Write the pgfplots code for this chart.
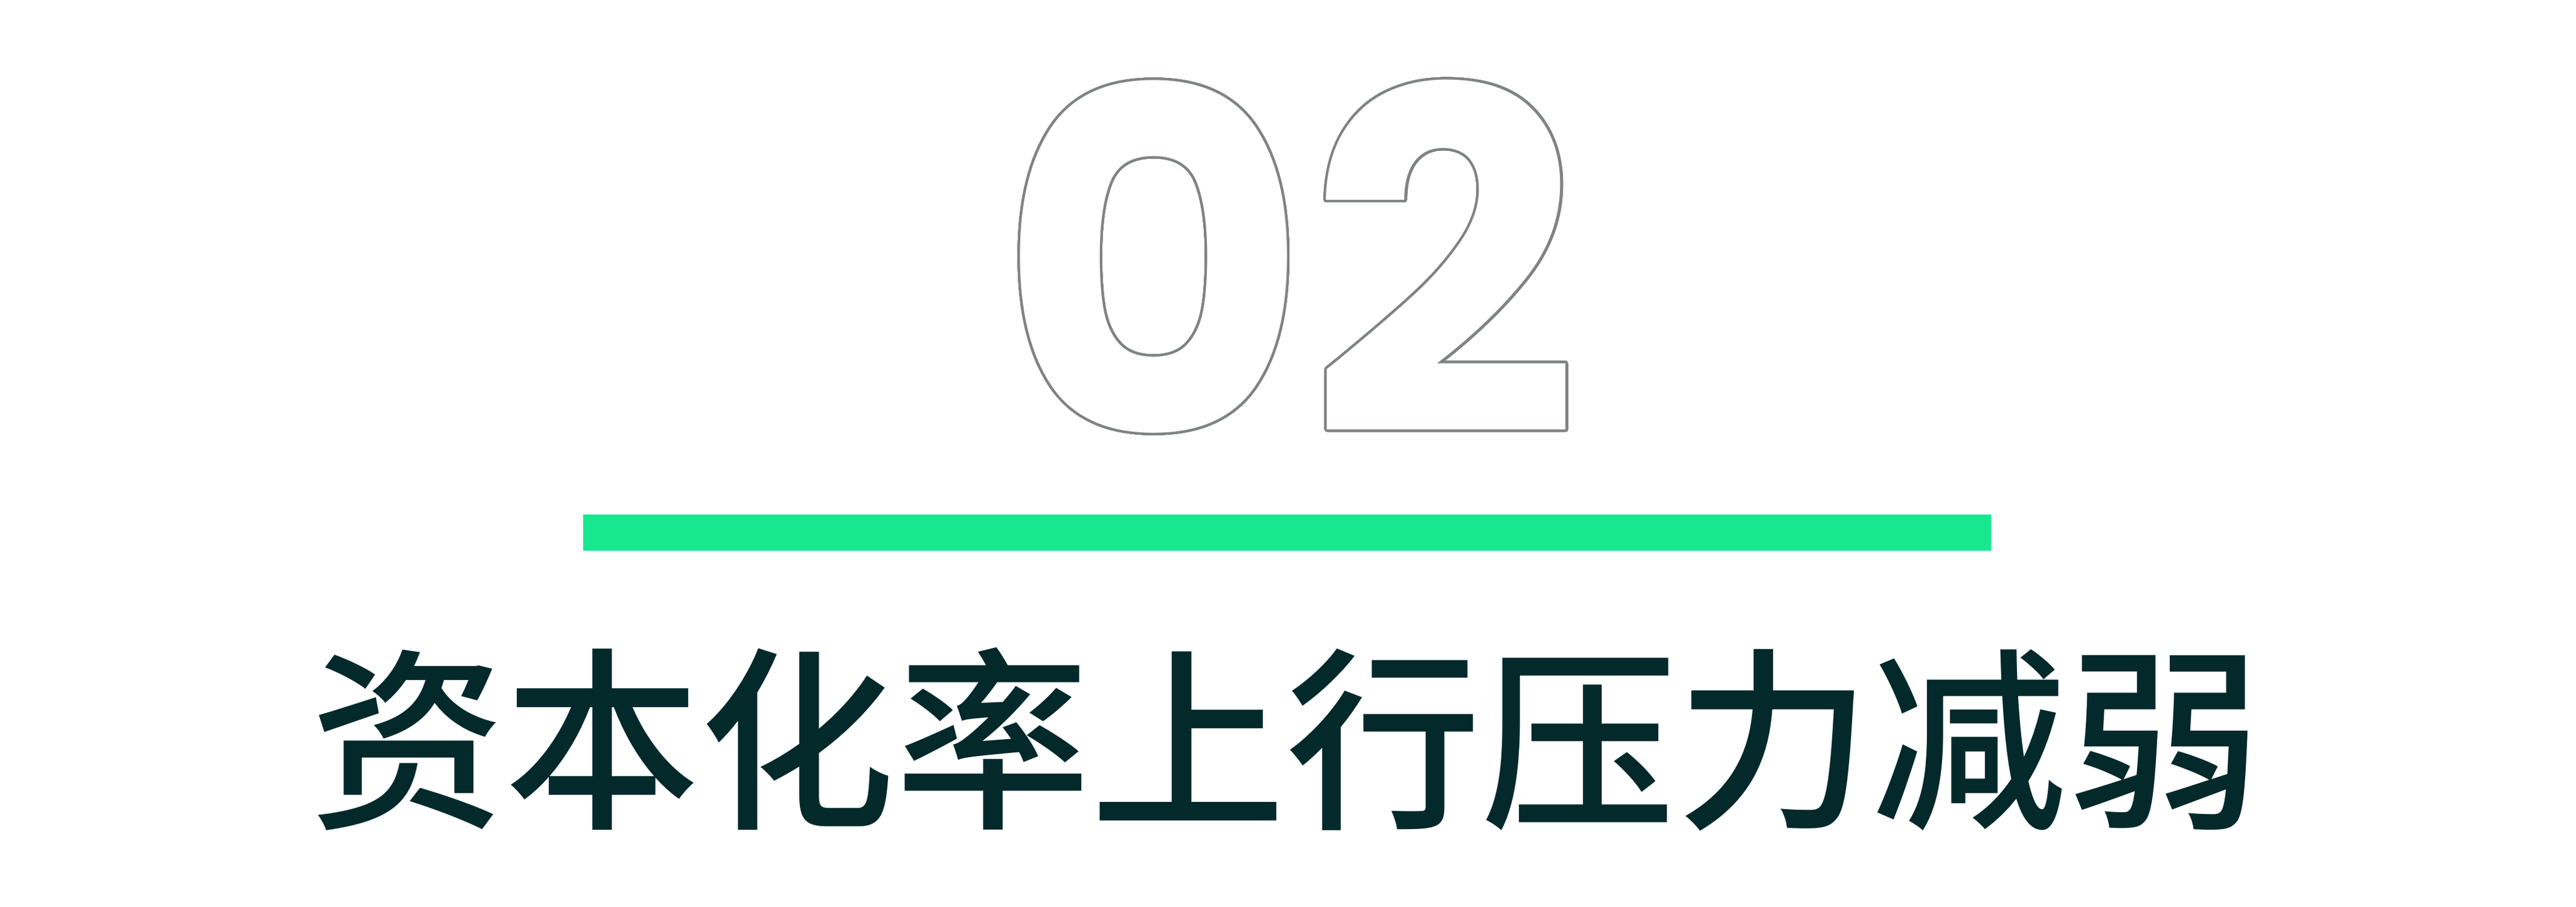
\documentclass[border=0pt]{standalone}
\usepackage{fontspec}
\usepackage{pgfplots}
\pgfplotsset{compat=1.18}
\usepackage{contour}
\newfontfamily\numfont{Poppins}
\newfontfamily\cjk{Noto Sans CJK SC}[UprightFont=* Medium]
\definecolor{grn}{HTML}{17E88F}
\definecolor{ink}{HTML}{03292B}
\definecolor{outl}{HTML}{808383}
\contourlength{0.6pt}
\contournumber{48}
\begin{document}
\begin{tikzpicture}
\begin{axis}[width=213.35mm, height=75.05mm, scale only axis,
  xmin=0, xmax=4267, ymin=0, ymax=1501, y dir=reverse,
  axis lines=none, clip=false]
% green bar under the number
\addplot[fill=grn, draw=none] coordinates {(966,852) (3298,852) (3298,912) (966,912)};
\node[inner sep=0pt] at (axis cs:2136,428)
  {\fontsize{112}{112}\numfont\bfseries\contour{outl}{\textcolor{white}{02}}};
\node[inner sep=0pt, text=ink] at (axis cs:2130,1224)
  {\fontsize{46}{46}\cjk 资本化率上行压力减弱};
\end{axis}
\useasboundingbox (current axis.south west) rectangle (current axis.north east);
\end{tikzpicture}
\end{document}
